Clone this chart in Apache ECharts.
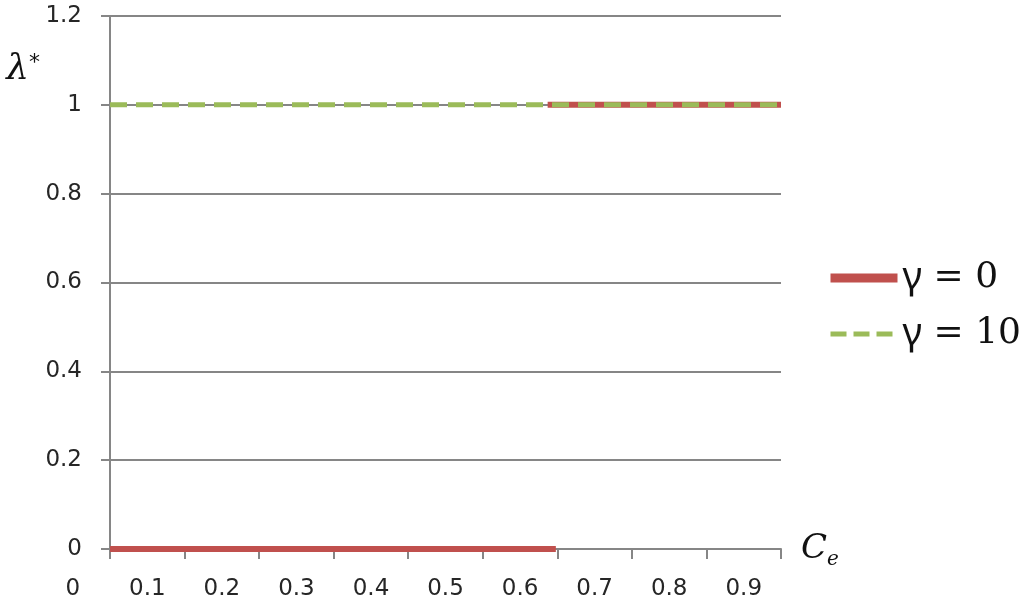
<!DOCTYPE html>
<html>
<head>
<meta charset="utf-8">
<script src="https://cdn.jsdelivr.net/npm/echarts@6/dist/echarts.min.js"></script>
<style>html,body{margin:0;padding:0;background:#fff}#c{width:1024px;height:607px}</style>
</head>
<body>
<div id="c"></div>
<script>
// Tick labels along the Ce axis (one per 0.1 band, "0" sits left of the y axis)
const xTickLabels = ['0', '0.1', '0.2', '0.3', '0.4', '0.5', '0.6', '0.7', '0.8', '0.9'];
// Bands between tick marks inside the plot
const xBands = ['0.1', '0.2', '0.3', '0.4', '0.5', '0.6', '0.7', '0.8', '0.9'];
// Series gamma = 0 (red): Ce values and lambda* values (null breaks the line)
const ceGamma0 = [0.05, 0.648, 0.643, 0.637, 0.95];
const lamGamma0 = [0, 0, null, 1, 1];
// Series gamma = 10 (green dashed)
const ceGamma10 = [0.05, 0.95];
const lamGamma10 = [1, 1];
// Y axis ticks
const yMin = 0, yMax = 1.2, yStep = 0.2;

const zip = (xs, ys) => xs.map((x, i) => [x, ys[i] === null ? '-' : ys[i]]);

const chart = echarts.init(document.getElementById('c'));
const gridTop = 16, gridBottom = 58, gridRight = 243;
const gray = '#868686';
const txt = '#262626';
chart.setOption({
  animation: false,
  backgroundColor: '#fff',
  grid: [
    {left: 110, right: gridRight, top: gridTop, bottom: gridBottom},
    {left: 35.5, right: gridRight, top: gridTop, bottom: gridBottom}
  ],
  legend: {
    orient: 'vertical',
    left: 826,
    top: 259,
    padding: 0,
    itemGap: 18,
    itemWidth: 67,
    itemHeight: 12,
    formatter: name => '{g|γ}' + name.slice(1),
    textStyle: {
      fontFamily: 'DejaVu Serif', fontSize: 36, color: '#111',
      rich: {g: {fontFamily: 'Noto Sans', fontSize: 38, color: '#111'}}
    },
    data: [
      {name: 'γ = 0', lineStyle: {width: 9, color: '#C0504D'}, itemStyle: {opacity: 0}},
      {name: 'γ = 10', lineStyle: {width: 5, color: '#9BBB59', type: [16, 7]}, itemStyle: {opacity: 0}}
    ]
  },
  xAxis: [
    {
      type: 'category', gridIndex: 0, data: xBands, boundaryGap: true,
      axisLine: {show: true, lineStyle: {color: gray, width: 2}},
      axisTick: {show: true, length: 10, lineStyle: {color: gray, width: 2}},
      axisLabel: {show: false},
      splitLine: {show: false},
      name: '{c|C}{e|e}',
      nameLocation: 'end',
      nameGap: 20,
      nameTextStyle: {
        rich: {
          c: {fontFamily: 'DejaVu Serif', fontStyle: 'italic', fontSize: 34, color: '#111'},
          e: {fontFamily: 'DejaVu Serif', fontStyle: 'italic', fontSize: 20, color: '#111', padding: [22, 0, 0, 0], verticalAlign: 'bottom'}
        }
      }
    },
    {
      type: 'value', gridIndex: 0, min: 0.05, max: 0.95, show: false
    },
    {
      type: 'category', gridIndex: 1, data: xTickLabels, boundaryGap: true,
      axisLine: {show: false}, axisTick: {show: false}, splitLine: {show: false},
      axisLabel: {show: true, interval: 0, margin: 29, fontFamily: 'DejaVu Sans', fontSize: 23, color: txt}
    }
  ],
  yAxis: [
    {
      type: 'value', gridIndex: 0, min: yMin, max: yMax, interval: yStep,
      axisLine: {show: true, lineStyle: {color: gray, width: 2}},
      axisTick: {show: true, length: 9, lineStyle: {color: gray, width: 2}},
      axisLabel: {margin: 28, fontFamily: 'DejaVu Sans', fontSize: 23, color: txt,
        formatter: v => String(+v.toFixed(1))},
      splitLine: {show: true, lineStyle: {color: gray, width: 2}},
      name: '{l|λ}{s|*}',
      nameLocation: 'end',
      nameGap: -72,
      nameTextStyle: {
        align: 'right',
        padding: [0, 70, 0, 0],
        rich: {
          l: {fontFamily: 'DejaVu Serif', fontStyle: 'italic', fontSize: 36, color: '#111'},
          s: {fontFamily: 'DejaVu Sans', fontSize: 22, color: '#111', verticalAlign: 'top', padding: [0, 0, 14, 0]}
        }
      }
    },
    {type: 'value', gridIndex: 1, min: yMin, max: yMax, show: false}
  ],
  series: [
    {
      name: 'γ = 0', type: 'line', xAxisIndex: 1, yAxisIndex: 0,
      data: zip(ceGamma0, lamGamma0), symbol: 'none', connectNulls: false,
      lineStyle: {color: '#C0504D', width: 6}, itemStyle: {color: '#C0504D'}, z: 3
    },
    {
      name: 'γ = 10', type: 'line', xAxisIndex: 1, yAxisIndex: 0,
      data: zip(ceGamma10, lamGamma10), symbol: 'none',
      lineStyle: {color: '#9BBB59', width: 5, type: [17, 9]}, itemStyle: {color: '#9BBB59'}, z: 4
    }
  ]
});
</script>
</body>
</html>
